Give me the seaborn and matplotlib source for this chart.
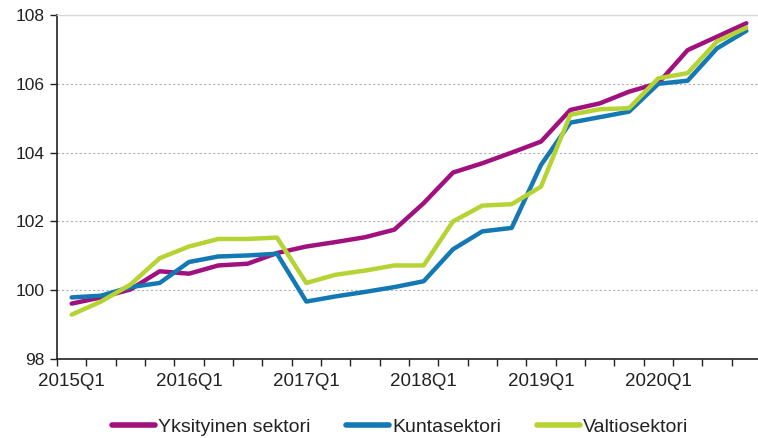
import matplotlib
matplotlib.use("Agg")
import matplotlib.pyplot as plt
import seaborn as sns
import pandas as pd
import numpy as np

quarters = [f"{y}Q{q}" for y in range(2015, 2021) for q in range(1, 5)]
yksityinen = [99.61, 99.79, 100.02, 100.55, 100.48, 100.72, 100.77, 101.08, 101.27,
              101.40, 101.54, 101.76, 102.53, 103.42, 103.69, 104.00,
              104.32, 105.24, 105.43, 105.77, 106.02, 106.98, 107.37, 107.76]
kunta = [99.79, 99.84, 100.09, 100.21, 100.82, 100.98, 101.01, 101.06, 99.67,
         99.82, 99.95, 100.09, 100.26, 101.19, 101.71, 101.81,
         103.64, 104.87, 105.03, 105.19, 106.00, 106.09, 107.03, 107.54]
valtio = [99.29, 99.67, 100.16, 100.93, 101.27, 101.49, 101.49, 101.53, 100.21,
          100.45, 100.57, 100.72, 100.72, 102.00, 102.46, 102.50,
          103.01, 105.10, 105.26, 105.29, 106.16, 106.31, 107.23, 107.63]
series_names = ["Yksityinen sektori", "Kuntasektori", "Valtiosektori"]
colors = ["#a0117e", "#1378b4", "#b6d334"]
yticks = [98, 100, 102, 104, 106, 108]

df = pd.DataFrame({
    "idx": list(range(len(quarters))) * 3,
    "value": yksityinen + kunta + valtio,
    "series": sum([[n] * len(quarters) for n in series_names], []),
})

sns.set_theme(style="white")
plt.rcParams["font.family"] = ["Liberation Sans", "DejaVu Sans"]

fig = plt.figure(figsize=(7.58, 4.38), dpi=100)
ax = fig.add_axes([57 / 758, 1 - 359 / 438, (761 - 57) / 758, (359 - 15) / 438])

sns.lineplot(data=df, x="idx", y="value", hue="series", hue_order=series_names,
             palette=colors, linewidth=3.2, ax=ax, legend=True)

ax.set_xlim(-0.5, len(quarters) - 0.5)
ax.set_ylim(98, 108)
ax.set_yticks(yticks)
ax.set_yticklabels([str(t) for t in yticks], fontsize=12.5, color="#222222")
ax.set_xticks(np.arange(-0.5, len(quarters) + 0.5, 1))
ax.set_xticklabels([])
label_pos = [i for i, q in enumerate(quarters) if q.endswith("Q1")]
ax.set_xticks(label_pos, [quarters[i] for i in label_pos], minor=True)
ax.tick_params(axis="x", which="minor", length=0, labelsize=13.5, labelcolor="#222222", pad=10)
ax.tick_params(axis="x", which="major", length=5, width=1, color="#222222", direction="out", bottom=True)
ax.tick_params(axis="y", length=5, width=1, color="#222222", direction="out", left=True, pad=4)
ax.set_xlabel("")
ax.set_ylabel("")

ax.yaxis.grid(True, linestyle=(0, (2, 2)), color="#b0b0b0", linewidth=0.8)
ax.xaxis.grid(False)
for s in ["left", "bottom"]:
    ax.spines[s].set_color("#222222")
    ax.spines[s].set_linewidth(1.2)
ax.spines["right"].set_visible(False)
ax.spines["top"].set_color("#d8d8d8")
ax.spines["top"].set_linewidth(1)

handles, labels = ax.get_legend_handles_labels()
ax.legend_.remove()
for h in handles:
    h.set_linewidth(4)
fig.legend(handles, labels, loc="center", bbox_to_anchor=(400 / 758, 1 - 427 / 438),
           ncol=3, frameon=False, fontsize=14, handlelength=2.2, handletextpad=0.15,
           columnspacing=1.85, labelcolor="#222222", borderpad=0)

fig.savefig("out.png", dpi=100)
